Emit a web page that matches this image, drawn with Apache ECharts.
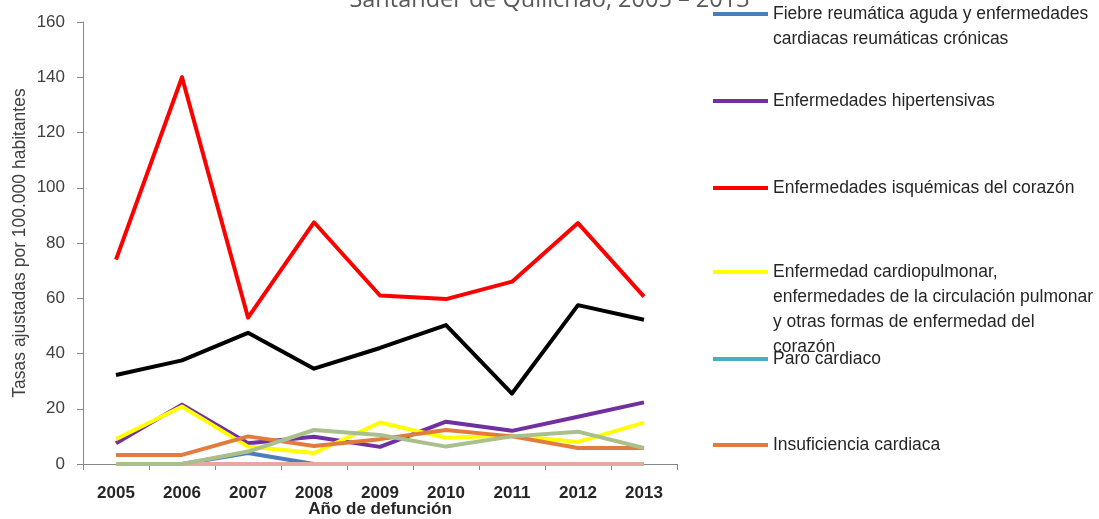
<!DOCTYPE html>
<html>
<head>
<meta charset="utf-8">
<script src="https://cdn.jsdelivr.net/npm/echarts@6/dist/echarts.min.js"></script>
<style>
  html, body { margin: 0; padding: 0; background: #fff; }
  #chart { width: 1099px; height: 519px; }
</style>
</head>
<body>
<div id="chart"></div>
<script>
// años
const years = ['2005', '2006', '2007', '2008', '2009', '2010', '2011', '2012', '2013'];
const yTicks = [0, 20, 40, 60, 80, 100, 120, 140, 160];

// tasas por serie
const fiebreReumatica = [0, 0, 4, 0, 0, 0, 0, 0, 0];
const hipertensivas = [7.5, 21.5, 7.5, 9.9, 6.2, 15.3, 12, 17.1, 22.3];
const isquemicas = [74, 140, 53, 87.5, 61, 59.7, 66, 87.2, 60.6];
const cardiopulmonar = [9, 20.8, 6.3, 4, 15, 9.5, 10.3, 8, 15];
const paroCardiaco = [0, 0, 0, 0, 0, 0, 0, 0, 0];
const insuficiencia = [3.3, 3.3, 10, 6.5, 9, 12.3, 10, 5.8, 5.8];
const cerebrovasculares = [32.2, 37.5, 47.5, 34.5, 42, 50.3, 25.5, 57.5, 52.2];
const aterosclerosis = [0, 0, 0, 0, 0, 0, 0, 0, 0];
const demasCirculatorio = [0, 0, 4.5, 12.3, 10.5, 6.3, 10, 11.7, 5.8];

const font = '"Liberation Sans Narrow", "Liberation Sans", Arial, sans-serif';

const series = [
  { name: 'Fiebre reumática aguda y enfermedades cardiacas reumáticas crónicas', color: '#4A7EBB', data: fiebreReumatica,
    label: 'Fiebre reumática aguda y enfermedades\ncardiacas reumáticas crónicas', iconY: 14, lines: 2 },
  { name: 'Enfermedades hipertensivas', color: '#7030A0', data: hipertensivas,
    label: 'Enfermedades hipertensivas', iconY: 101, lines: 1 },
  { name: 'Enfermedades isquémicas del corazón', color: '#FF0000', data: isquemicas,
    label: 'Enfermedades isquémicas del corazón', iconY: 188, lines: 1 },
  { name: 'Enfermedad cardiopulmonar', color: '#FFFF00', data: cardiopulmonar,
    label: 'Enfermedad cardiopulmonar,\nenfermedades de la circulación pulmonar\ny otras formas de enfermedad del\ncorazón', iconY: 272, lines: 4 },
  { name: 'Paro cardiaco', color: '#4BACC6', data: paroCardiaco,
    label: 'Paro cardiaco', iconY: 359, lines: 1 },
  { name: 'Insuficiencia cardiaca', color: '#E37B3E', data: insuficiencia,
    label: 'Insuficiencia cardiaca', iconY: 445, lines: 1 },
  { name: 'Enfermedades cerebrovasculares', color: '#000000', data: cerebrovasculares },
  { name: 'Aterosclerosis', color: '#E6A8A3', data: aterosclerosis },
  { name: 'Las demás enfermedades del sistema circulatorio', color: '#A9C08C', data: demasCirculatorio }
];

const lineH = 25;

// una leyenda por serie; líneas vacías arriba para que el icono quede en la primera línea
const legends = series.filter(s => s.label).map(s => ({
  data: [s.name],
  left: 713,
  top: s.iconY - (2 * s.lines - 1) * lineH / 2,
  padding: 0,
  icon: 'rect',
  itemWidth: 55,
  itemHeight: 4,
  itemGap: 0,
  selectedMode: false,
  formatter: () => '\n'.repeat(s.lines - 1) + s.label,
  textStyle: {
    fontFamily: font,
    fontSize: 17.5,
    color: '#262626',
    lineHeight: lineH
  }
}));

const myChart = echarts.init(document.getElementById('chart'));
const option = {
  animation: false,
  title: {
    text: 'Santander de Quilichao, 2005 – 2013',
    left: 'center',
    top: -17,
    textStyle: { fontFamily: '"Open Sans", sans-serif', fontSize: 23.5, fontWeight: 'normal', color: '#595959' }
  },
  legend: legends,
  grid: { left: 83, right: 422, top: 22, bottom: 55, outerBoundsMode: 'none' },
  xAxis: {
    type: 'category',
    data: years,
    name: 'Año de defunción',
    nameLocation: 'middle',
    nameGap: 37,
    nameMoveOverlap: false,
    nameTextStyle: { fontFamily: font, fontSize: 17, fontWeight: 'bold', color: '#262626' },
    axisLine: { lineStyle: { color: '#868686', width: 1 } },
    axisTick: { show: true, length: 6, lineStyle: { color: '#868686' } },
    axisLabel: { fontFamily: font, fontSize: 17, fontWeight: 'bold', color: '#262626', margin: 21 },
    splitLine: { show: false }
  },
  yAxis: {
    type: 'value',
    min: yTicks[0],
    max: yTicks[yTicks.length - 1],
    interval: 20,
    name: 'Tasas ajustadas por 100.000 habitantes',
    nameLocation: 'middle',
    nameGap: 54,
    nameMoveOverlap: false,
    nameTextStyle: { fontFamily: font, fontSize: 17.5, color: '#404040' },
    axisLine: { show: true, lineStyle: { color: '#868686', width: 1 } },
    axisTick: { show: true, length: 6, lineStyle: { color: '#868686' } },
    axisLabel: { fontFamily: font, fontSize: 17, color: '#404040', margin: 18 },
    splitLine: { show: false }
  },
  series: series.map(s => ({
    name: s.name,
    type: 'line',
    data: s.data,
    symbol: 'none',
    color: s.color,
    lineStyle: { width: 4, color: s.color, join: 'round' }
  }))
};
myChart.setOption(option);
window.addEventListener('resize', function () {
  myChart.resize();
});
</script>
</body>
</html>
